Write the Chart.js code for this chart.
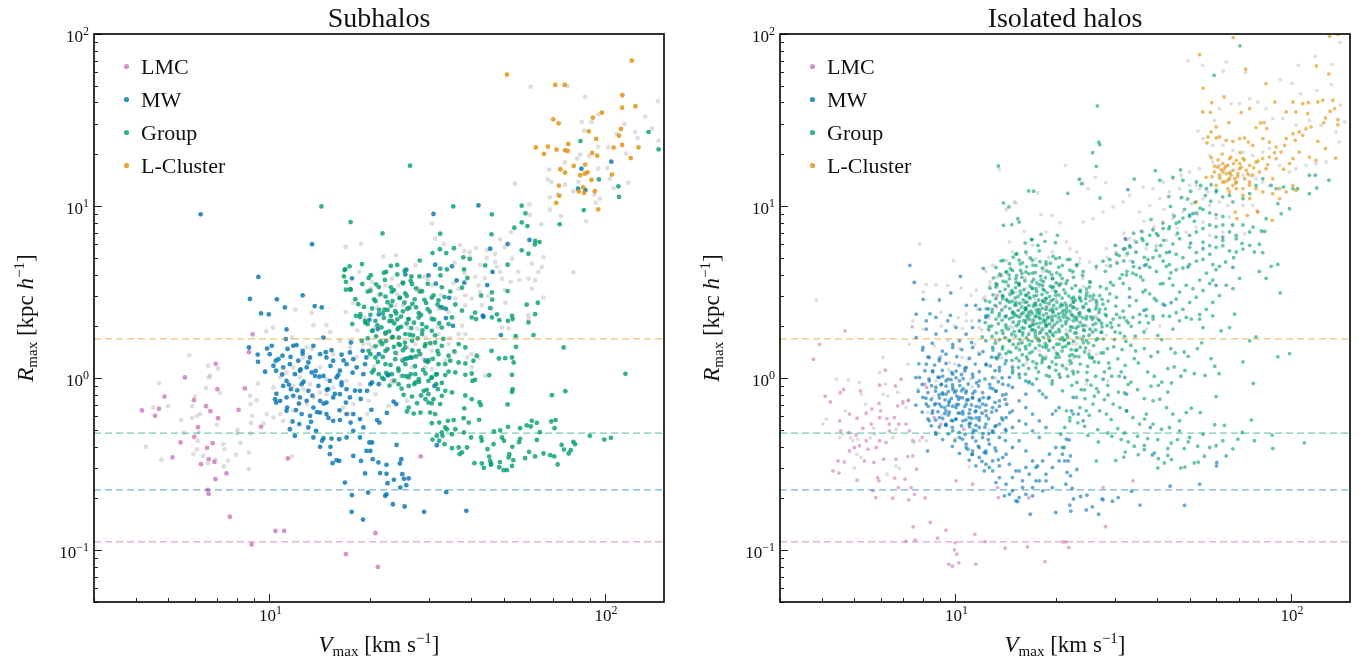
<!DOCTYPE html>
<html>
<head>
<meta charset="utf-8">
<title>Vmax - Rmax</title>
<script src="https://cdn.jsdelivr.net/npm/chart.js@4.4.1/dist/chart.umd.min.js"></script>
<style>
  body { margin: 0; background: #fff; }
  #wrap { position: relative; width: 1359px; height: 662px; }
  canvas { position: absolute; top: 0; }
  #c1 { left: 0; }
  #c2 { left: 680px; }
</style>
</head>
<body>
<div id="wrap">
  <canvas id="c1" width="680" height="662"></canvas>
  <canvas id="c2" width="679" height="662"></canvas>
</div>
<script>
// every point is [log10 Vmax (km/s), log10 Rmax (kpc/h)]
const groupNames = ["LMC", "MW", "Group", "L-Cluster"];
const panelTitles = ["Subhalos", "Isolated halos"];
// Rmax resolution limits (dashed lines), one per group
const refLines = { "L-Cluster": 1.69, Group: 0.479, MW: 0.224, LMC: 0.112 };
const xMajor = [10, 100];
const xMinor = [3, 4, 5, 6, 7, 8, 9, 20, 30, 40, 50, 60, 70, 80, 90];
const yMajor = [0.1, 1, 10, 100];
const yMinor = [0.05, 0.06, 0.07, 0.08, 0.09, 0.2, 0.3, 0.4, 0.5, 0.6, 0.7, 0.8, 0.9, 2, 3, 4, 5, 6, 7, 8, 9, 20, 30, 40, 50, 60, 70, 80, 90];

// ---------- Subhalos ----------
const subLmc = [[.950,.254],[.939,.151],[.840,.083],[.748,.004],[.687,-.107],[.620,-.188],[.659,-.219],[.671,-.178],[.845,-.064],[.927,-.060],[.775,-.128],[.811,-.163],[.824,-.192],[.908,-.184],[.847,-.233],[.787,-.285],[.975,-.283],[.735,-.374],[.776,-.341],[.831,-.378],[.814,-.405],[.711,-.461],[.819,-.471],[.796,-.500],[.836,-.487],[.872,-.554],[.839,-.587],[.816,-.649],[.819,-.673],[.882,-.806],[1.018,-.888],[1.044,-.888],[.947,-.967],[1.055,-.467],[1.228,-1.023],[1.451,-.455],[1.316,-.901],[1.323,-1.097]];

const subMw = [[.795,.952],[1.127,.778],[1.246,.580],[.967,.588],[.942,.460],[1.022,.458],[1.099,.481],[1.046,.411],[.975,.376],[.998,.370],[1.135,.419],[1.156,.411],
[2.019,1.258],[1.930,1.217],[1.920,1.101],[1.942,1.093],[1.623,1.004],[1.489,.954],[1.775,.803],[1.710,.779],[1.658,.752],[1.494,.659],[1.544,.650],[1.408,.630],[1.405,.603],[1.474,.597],[1.665,.617],[1.558,.568],[1.581,.555],[1.649,.541],[1.496,.549],[1.536,.467],[1.510,.413],[1.526,.403],[1.636,.363],
[1.051,.283],[1.049,.227],[.939,.178],[.965,.137],[.966,.095],[.993,.172],[1.007,.188],[1.001,.139],[1.019,.101],[1.027,.110],[1.054,.170],[1.071,.188],[1.081,.192],[1.099,.159],[1.131,.188],[1.161,.236],[1.185,.163],[1.215,.136],[1.240,.149],[1.243,.207],[1.250,.110],[1.278,.159],[1.285,.081],[1.260,.062],[1.230,.081],[1.210,.043],[1.190,.101],[1.170,.120],[1.151,.139],[1.121,.120],[1.111,.062],[1.086,.101],[1.061,.081],[1.039,.130],[1.012,.072],[.987,.037],[1.020,.043],[1.041,.062],[1.051,-.016],[1.076,.023],[1.091,.043],[1.126,.033],[1.136,.013],[1.161,.013],[1.180,-.016],[1.200,.004],[1.215,-.025],[1.230,-.064],[1.210,-.093],[1.190,-.112],[1.170,-.142],[1.151,-.132],[1.131,-.171],[1.111,-.132],[1.091,-.112],[1.071,-.103],[1.051,-.112],[1.032,-.132],[1.017,-.122],[1.020,-.142],[1.041,-.045],[1.064,-.064],[1.096,-.035],[1.116,-.074],[1.146,-.045],[1.175,-.064],[1.240,-.112],[1.270,-.074],[1.280,.023],[1.289,.120],[1.053,-.171],[1.051,-.190],[1.079,-.186],[1.096,-.209],[1.121,-.219],[1.151,-.200],[1.170,-.209],[1.190,-.248],[1.210,-.244],[1.230,-.209],[1.250,-.209],[1.270,-.238],[1.280,-.287],[1.250,-.306],[1.230,-.345],[1.208,-.355],[1.185,-.351],[1.161,-.349],[1.139,-.306],[1.116,-.287],[1.089,-.267],[1.069,-.252],[1.061,-.297],[1.076,-.335],[1.131,-.345],[1.157,-.364],[1.182,-.399],[1.208,-.481],[1.188,-.494],[1.200,-.477],[1.250,-.452],[1.273,-.481],[1.285,-.554],[1.246,-.680],[1.245,-.777],[1.279,-.822],[1.225,-.607],[1.180,-.442],[1.151,-.399],[1.289,-.423],[1.270,-.345],
[1.298,.339],[1.323,.285],[1.326,.139],[1.353,.017],[1.326,-.035],[1.301,-.035],[1.291,-.074],[1.306,-.025],[1.370,-.136],[1.378,-.151],[1.350,-.202],[1.304,-.184],[1.321,-.244],[1.328,-.258],[1.298,-.374],[1.306,-.374],[1.301,-.423],[1.308,-.471],[1.325,-.490],[1.349,-.504],[1.330,-.552],[1.349,-.556],[1.379,-.388],[1.393,-.471],[1.389,-.496],[1.396,-.558],[1.371,-.591],[1.352,-.611],[1.349,-.675],[1.345,-.684],[1.390,-.636],[1.408,-.622],[1.415,-.583],[1.401,-.585],[1.368,-.733],[1.403,-.746],[1.461,-.777],[1.587,-.771],[1.527,-.663],[1.294,-.665],[1.499,-.390],[1.355,.019],[1.547,.304],[1.690,.250],[1.638,.356],[1.526,.349],[1.326,.370],[1.405,.112],[1.420,.120],[1.465,.101],[1.492,-.045],
[1.102,-.021],[1.138,.042],[1.171,-.067],[1.205,.018],[1.128,-.102],[1.162,-.148],[1.195,-.091],[1.228,-.142],[1.083,-.071],[1.116,.091],[1.149,.008],[1.182,.071],[1.215,-.042],[1.248,.032],[1.093,.051],[1.058,-.038],[1.142,-.198],[1.176,-.231],[1.209,-.187],[1.242,-.258],[1.124,-.254],[1.088,-.148],[1.063,.123],[1.099,.142],[1.168,.151],[1.221,.103],[1.255,-.073],[1.272,-.121],[1.038,.021],[1.021,-.091]];

const subGroup = [[1.155,.998],[1.242,.907],[1.276,.663],[1.239,.650],[1.224,.628],[1.222,.591],[1.228,.559],[1.228,.514],[1.242,.514],
[1.258,.362],[1.270,.355],[1.285,.333],[1.293,.314],[1.275,.217],[1.241,.517],[1.256,.459],[1.226,.634],[1.271,.372],[1.247,.314],[1.277,.547],[1.265,.430],
[1.419,1.235],[1.927,1.378],[1.982,1.155],[2.040,1.115],[2.042,1.053],[1.937,.977],[1.865,.894],[1.548,.998],[1.752,1.002],[1.763,.958],[1.663,.952],[1.337,.841],[1.509,.839],[1.662,.836],[1.752,.905],[1.769,.884],[1.730,.874],[1.792,.797],[1.805,.791],[1.791,.776],[1.752,.743],[1.772,.723],[1.486,.727],[1.508,.749],[1.527,.727],[1.550,.755],[1.448,.683],[1.381,.658],[1.348,.617],[1.710,.659],[1.643,.655],[1.578,.702],[1.597,.692],[1.580,.632],[1.509,.636],[1.529,.632],[1.510,.597],[1.590,.582],[1.574,.526],[1.423,.591],[1.447,.591],[1.398,.555],[1.425,.547],[1.710,.506],[1.663,.498],[1.631,.479],[1.664,.456],[1.514,.528],[1.539,.503],[1.522,.471],[1.504,.452],[1.767,.427],[1.800,.438],[2.13,1.43],[2.16,1.33],
[1.296,.582],[1.326,.529],[1.301,.508],[1.346,.474],[1.316,.447],[1.365,.502],[1.388,.466],[1.405,.493],[1.433,.458],[1.455,.505],[1.467,.437],[1.484,.468],[1.306,.405],[1.343,.398],[1.375,.389],[1.417,.409],[1.445,.378],[1.472,.401],[1.554,.428],[1.574,.392],[1.613,.381],[1.658,.407],[1.678,.371],[1.723,.362],[1.792,.372],
[1.603,.353],[1.616,.343],[1.663,.353],[1.685,.337],[1.711,.333],[1.725,.343],[1.772,.324],[1.787,.250],[1.734,.244],[1.877,.178],[1.735,.182],[1.662,.159],[1.618,.130],[1.703,.116],[1.723,.120],[1.728,.091],[1.684,.114],[1.723,.019],[1.723,-.080],[1.725,-.064],[1.710,-.153],[1.842,-.099],[1.882,-.076],[2.061,.025],[1.655,.017],[1.584,.019],[1.603,.027],[1.613,-.010],[1.605,-.016],[1.584,-.101],[1.603,-.122],[1.626,-.140],[1.630,-.157],[1.581,-.176],[1.579,-.233],[1.594,-.258],[1.625,-.242],[1.549,-.244],[1.532,-.248],[1.524,-.287],[1.514,-.316],[1.529,-.297],[1.544,-.326],[1.554,-.297],[1.580,-.316],[1.601,-.345],[1.631,-.345],[1.633,-.364],[1.669,-.310],[1.693,-.345],[1.699,-.364],[1.668,-.384],[1.650,-.413],[1.655,-.456],[1.658,-.481],[1.687,-.488],[1.713,-.461],[1.715,-.442],[1.724,-.399],[1.744,-.372],[1.747,-.353],[1.774,-.428],[1.762,-.465],[1.792,-.455],[1.817,-.438],[1.837,-.448],[1.849,-.455],[1.859,-.502],[1.871,-.388],[1.878,-.415],[1.892,-.438],[1.898,-.419],[1.906,-.370],[1.911,-.384],[1.955,-.335],[1.998,-.357],[2.018,-.347],[1.850,-.291],[1.840,-.252],[1.853,-.244],[1.797,-.260],[1.782,-.248],[1.767,-.275],[1.779,-.281],[1.806,-.314],[1.797,-.359],[1.747,-.291],[1.711,-.283],[1.688,-.304],[1.633,-.496],[1.611,-.494],[1.639,-.521],[1.661,-.498],[1.685,-.518],[1.698,-.535],[1.708,-.535],[1.723,-.510],[1.727,-.477],[1.660,-.504],[1.564,-.403],[1.544,-.407],[1.567,-.442],[1.574,-.432],[1.589,-.403],[1.522,-.384],[1.506,-.364],[1.516,-.335],[1.486,-.357],[1.499,-.335],[1.506,-.258],[1.484,-.262],[1.494,-.209],[1.479,-.200],[1.484,-.147],[1.489,-.122],[1.509,-.151],[1.514,-.103],[1.524,-.074],[1.544,-.083],[1.430,-.206],[1.410,-.194],[1.450,-.200],[1.474,-.142],[1.465,-.122],[1.440,-.146],[1.400,-.097],[1.425,-.107],[1.452,-.101],[1.460,-.074],[1.474,-.093],[1.497,-.035],[1.502,-.064],[1.514,-.028],[1.415,-.045],[1.435,-.025],[1.445,-.006],[1.474,-.016],[1.385,-.035],[1.397,.013],[1.415,.004],[1.435,.023],[1.465,.027],[1.484,.004],[1.499,.023],[1.524,.018],[1.534,.038],[1.554,.033],[1.524,.081],[1.539,.101],[1.564,.091],[1.584,.085],[1.608,.101],[1.584,.178],[1.564,.198],[1.551,.155],[1.534,.130],[1.504,.139],[1.514,.188],[1.494,.207],[1.465,.198],[1.445,.159],[1.425,.120],[1.405,.081],[1.385,.043],[1.365,.023],[1.341,-.006],[1.326,.023],[1.306,.033],[1.316,.120],[1.296,.159],[1.336,.198],[1.365,.236],[1.405,.256],[1.425,.217],[1.455,.256],[1.484,.275],[1.514,.294],[1.534,.314],[1.455,.314],[1.385,.294],[1.346,.265],[1.306,.275],[1.316,.333],[1.365,.333],[1.415,.343],[1.484,.343],[1.544,.353],[1.437,.126],[1.474,.104],[1.504,.081],[1.375,.110],[1.346,.081],[1.405,.178],[1.385,.198],[1.346,.159],[1.415,-.171],
[1.302,.598],[1.344,.571],[1.381,.603],[1.421,.566],[1.318,.545],[1.362,.528],[1.398,.551],[1.437,.522],[1.472,.548],[1.293,.503],[1.331,.487],[1.371,.512],[1.409,.478],[1.448,.503],[1.489,.481],[1.312,.458],[1.352,.441],[1.389,.466],[1.426,.432],[1.462,.455],[1.501,.428],[1.282,.414],[1.327,.397],[1.362,.421],[1.398,.388],[1.437,.412],[1.478,.386],[1.516,.409],[1.301,.368],[1.341,.351],[1.378,.376],[1.414,.343],[1.452,.367],[1.491,.341],[1.286,.322],[1.322,.306],[1.358,.331],[1.393,.298],[1.431,.322],[1.468,.296],[1.506,.319],[1.308,.276],[1.346,.259],[1.382,.284],[1.418,.252],[1.456,.277],[1.494,.249],[1.293,.231],[1.331,.214],[1.368,.239],[1.404,.206],[1.442,.231],[1.479,.204],[1.518,.228],[1.316,.185],[1.352,.168],[1.389,.193],[1.426,.161],[1.463,.185],[1.501,.158],[1.301,.139],[1.338,.123],[1.376,.147],[1.412,.115],[1.449,.139],[1.487,.112],[1.323,.094],[1.361,.077],[1.397,.102],[1.434,.069],[1.472,.093],[1.311,.048],[1.348,.031],[1.384,.056],[1.421,.023],[1.458,.048],[1.496,.021],[1.336,.002],[1.372,-.014],[1.408,.011],[1.446,-.022],[1.483,.002],[1.358,-.043],[1.394,-.061],[1.432,-.035],[1.469,-.068],[1.341,.612],[1.403,.624],[1.362,.652],[1.338,.376],[1.372,.318],[1.357,.272],[1.392,.358],[1.423,.291],[1.386,.236],[1.411,.402],[1.352,.396],[1.367,.448],[1.402,.438],[1.445,.352],[1.428,.248],[1.371,.182],[1.347,.215],[1.398,.162],[1.318,.243],[1.334,.295],[1.381,.341],[1.409,.318],[1.362,.362]];

const subCluster = [[2.080,1.845],[1.708,1.764],[1.852,1.704],[1.880,1.704],[2.052,1.644],[2.051,1.572],[2.091,1.580],[1.991,1.543],[1.964,1.514],[1.846,1.504],[1.862,1.481],[1.952,1.434],[2.048,1.448],[2.042,1.409],[1.974,1.390],[1.794,1.341],[1.830,1.345],[1.856,1.328],[1.881,1.324],[1.889,1.320],[1.891,1.361],[2.026,1.340],[2.051,1.355],[2.100,1.341],[1.818,1.303],[1.962,1.309],[1.977,1.293],[2.077,1.279],[1.907,1.233],[1.867,1.214],[1.881,1.194],[1.941,1.241],[1.926,1.179],[1.940,1.188],[1.948,1.196],[2.021,1.183],[1.960,1.152],[1.863,1.119],[1.922,1.084],[1.938,1.076],[1.935,1.109],[1.970,1.086],[1.864,1.060],[1.855,1.018],[1.980,.981]];

const subGray = [[1.227,.762],[1.273,.781],[1.267,.617],[1.077,.398],[1.126,.380],[1.227,.384],[1.250,.436],
[1.779,1.694],[1.889,1.696],[1.941,1.634],[1.931,1.489],[1.960,1.489],[1.980,1.533],[2.058,1.477],[1.938,1.438],[2.035,1.419],[2.097,1.396],[2.090,1.431],[1.980,1.345],[2.010,1.340],[1.926,1.299],[1.917,1.276],[1.953,1.291],[2.063,1.305],[1.881,1.254],[1.834,1.212],[1.829,1.155],[1.840,1.140],[1.732,1.130],[1.980,1.217],[2.007,1.221],[2.015,1.159],[2.026,1.103],[2.070,1.136],[1.881,1.124],[1.906,1.086],[1.921,1.140],[1.859,1.066],[1.836,1.051],[1.968,1.066],[1.985,1.043],[1.973,1.020],[1.836,.979],[1.869,.942],[1.944,.913],[1.775,1.010],[1.777,.948],[1.485,.898],[1.494,.811],[1.520,.779],[1.720,.849],[1.688,.807],[1.701,.760],[1.810,.894],[1.817,.702],[1.906,.615],[1.339,.706],[1.378,.714],[1.568,.772],[1.597,.733],[1.580,.739],[1.616,.756],[1.648,.743],[1.648,.698],[1.673,.675],[1.723,.694],[1.678,.646],[1.688,.617],[1.693,.578],[1.782,.665],[1.802,.617],[1.812,.646],[1.772,.578],[1.792,.568],[1.745,.570],[1.719,.559],[1.613,.588],[1.623,.539],[1.628,.500],[1.584,.481],[1.603,.462],[1.554,.462],[1.564,.520],[1.703,.438],[1.782,.520],[1.817,.468],[1.435,.655],[1.460,.588],[1.484,.539],[1.445,.520],[1.385,.539],[1.365,.578],[1.346,.539],[1.326,.481],[1.306,.559],[1.405,.442],[1.375,.423],[1.504,.403],[1.534,.384],[1.584,.423],[1.633,.423],[1.663,.403],[1.772,.365],[2.158,1.61],[2.12,1.52],[2.14,1.45],[2.16,1.38],
[.761,.132],[.817,.072],[.847,.056],[.823,.013],[.819,.004],[.671,-.029],[.811,-.058],[.853,-.087],[.778,-.107],[.770,-.163],[.698,-.163],[.654,-.171],[.737,-.244],[.770,-.231],[.784,-.219],[.793,-.209],[.844,-.270],[.745,-.320],[.789,-.314],[.786,-.365],[.773,-.440],[.784,-.414],[.632,-.400],[.678,-.474],[.803,-.452],[.817,-.495],[.839,-.474],[.862,-.383],[.866,-.414],[.877,-.480],[.864,-.513],[.905,-.301],[.903,-.321],[.914,-.377],[.900,-.445],[.939,-.433],[.939,-.528],[.944,-.322],[.945,-.262],[.948,-.219],[.944,-.151],[.962,-.128],[.966,-.031],[.942,-.103],[.982,-.264],[.990,.271],[1.011,.294],[1.131,.308],[1.181,.267],[1.170,.308],[1.067,.236],[1.126,.169],[1.111,.178],
[1.012,-.054],[1.032,.004],[1.051,.033],[1.071,.062],[1.091,.004],[1.071,-.045],[1.101,-.064],[1.121,-.035],[1.151,-.083],[1.170,-.093],[1.190,-.054],[1.230,-.016],[1.170,-.006],[1.131,-.112],[1.111,-.151],[1.071,-.190],[1.032,-.209],[1.012,-.229],[1.041,-.248],[.992,-.209],[1.220,-.171],[1.250,-.151],[1.270,-.035],[1.260,.120],[1.240,.178],[1.280,.198],[1.210,.217],[1.190,.139],[1.101,.120],[1.151,.062],[1.240,-.209],[1.066,-.457],
[1.772,.343],[1.693,.294],[1.713,.289],[1.584,.256],[1.603,.139],[1.623,.120],[1.603,.062],[1.643,.013],[1.590,.120],[1.564,.256],[1.574,.304],[1.296,.198],[1.306,.178],[1.326,.198],[1.346,.159],[1.380,.139],[1.395,.110],[1.435,.198],[1.465,.236],[1.484,.159],[1.484,.198],[1.504,.256],[1.524,.101],[1.465,.062],[1.425,.062],[1.484,.052],[1.365,-.016],[1.316,-.093],[1.296,-.132],[1.291,-.209],[1.355,-.161],[1.410,-.132],[1.370,-.025],[1.554,.149],[1.534,.198],[1.450,.139],[1.415,.294],[1.385,.236],[1.346,.256],[1.316,.294],
[1.321,.412],[1.362,.338],[1.398,.421],[1.441,.287],[1.482,.356],[1.352,.221],[1.412,.176],[1.458,.112],[1.311,.068],[1.391,.012],[1.512,.482],[1.549,.552],[1.581,.612],[1.628,.658],[1.672,.721],[1.712,.783],[1.552,.671],[1.598,.702],[1.642,.582],[1.503,.298],[1.538,.231],[1.441,.512],[1.472,.572],[1.381,.488],[1.283,.351],[1.262,.278],[1.302,.522],[1.652,.478],[1.702,.512],[1.742,.618]];

// ---------- Isolated halos ----------
const isoLmc = [[1.125,.481],[1.123,.415],
[.671,.275],[.595,.196],[.577,.110],[.871,.298],[.612,-.105],[.627,-.138],[.657,-.085],[.667,-.066],[.717,-.074],[.774,-.041],[.791,.046],[.821,-.045],[.838,-.006],[.843,-.138],[.860,-.128],[.828,-.161],[.772,-.147],[.751,-.180],[.777,-.190],[.734,-.204],[.707,-.233],[.655,-.248],[.684,-.209],[.658,-.306],[.682,-.316],[.704,-.330],[.724,-.291],[.749,-.267],[.774,-.229],[.796,-.235],[.803,-.267],[.818,-.229],[.803,-.306],[.831,-.267],[.853,-.267],[.863,-.306],[.873,-.364],[.774,-.364],[.793,-.374],[.734,-.364],[.714,-.393],[.699,-.403],[.739,-.413],[.764,-.403],[.684,-.423],[.650,-.481],[.669,-.487],[.729,-.481],[.757,-.490],[.786,-.471],[.823,-.471],[.858,-.456],[.873,-.452],[.635,-.539],[.653,-.552],[.707,-.593],[.768,-.578],[.772,-.597],[.819,-.581],[.830,-.636],[.850,-.587],[.868,-.636],[.878,-.675],[.861,-.707],[.754,-.655],[.762,-.694],[.813,-.698],[.910,-.696],[.884,-.529],[.901,-.345],[.908,-.035],[.914,-.054],[.937,-.229],[.957,-.267],[1.025,-.297],[1.002,-.597],[1.051,-.616],[.925,-.839],[.874,-.864],[.972,-.884],[.947,-.930],[.880,-.942],[.852,-.948],[.999,-.957],[.997,-.998],[1.004,-1.023],[.980,-1.081],[.991,-1.093],[1.010,-1.074],[1.058,-.907],[1.061,-1.081],[1.089,-.950],[1.148,-.988],[1.215,-.981],[1.267,-1.066],[1.219,-.696],[1.126,-.636],[1.128,-.694],
[1.529,-.597],[1.440,-.636],[1.447,-.863],[1.329,-.952],[1.338,-.985],[1.321,-.952],[1.900,.971],[1.509,.805]];

const isoMw = [[.864,.655],[.878,.557],[1.083,.638],[1.015,.591],[.904,.458],[.952,.454],[.986,.495],[1.033,.423],[1.060,.423],[1.073,.400],[1.098,.403],[.924,.374],[.985,.365],[1.091,.361],[1.151,.361],[1.175,.374],[1.209,.398],[1.228,.805],
[.913,.285],[.883,.236],[.903,.178],[.922,.120],[.913,.081],[.932,.043],[.952,.101],[.972,.139],[.992,.178],[1.012,.217],[1.032,.256],[1.051,.294],[1.071,.333],[1.091,.353],[.942,.256],[.972,.275],[1.002,.294],[.977,.333],[1.091,.217],[1.111,.178],[1.131,.139],[1.151,.101],[1.170,.062],[1.190,.023],[1.210,-.016],[1.161,.004],[1.141,-.035],[1.121,-.074],[1.101,-.112],[1.081,-.151],[1.061,-.190],[1.041,-.229],[1.022,-.209],[1.002,-.171],[.982,-.132],[.962,-.093],[.942,-.054],[.922,-.016],[.903,-.112],[.893,.004],[.913,-.151],[.932,-.190],[.952,-.229],[.972,-.267],[.992,-.306],[1.012,-.345],[1.032,-.384],[1.051,-.423],[1.071,-.461],[1.091,-.500],[1.111,-.539],[1.131,-.578],[1.151,-.616],[1.170,-.655],[1.190,-.694],[1.210,-.675],[1.230,-.636],[1.250,-.597],[1.270,-.558],[1.289,-.519],[1.309,-.481],[1.319,-.442],[1.299,-.403],[1.280,-.442],[1.260,-.481],[1.240,-.519],[1.220,-.558],[1.200,-.597],[1.180,-.539],[1.161,-.500],[1.141,-.461],[1.121,-.423],[1.101,-.384],[1.081,-.345],[1.061,-.306],[1.041,-.267],[1.071,-.229],[1.091,-.190],[1.111,-.171],[1.131,-.132],[1.151,-.093],[1.170,-.054],[1.190,-.132],[1.210,-.171],[1.230,-.209],[1.250,-.248],[1.270,-.287],[1.289,-.209],[1.309,-.171],[1.270,-.112],[1.250,-.074],[1.230,-.035],[1.210,-.093],[1.170,-.190],[1.151,-.229],[1.131,-.267],[1.111,-.306],[1.091,-.267],[1.032,-.074],[1.012,-.016],[.992,.023],[.972,-.016],[.952,.004],[1.032,.062],[1.051,.023],[1.071,-.016],[1.091,.081],[1.071,.139],[1.051,.178],[1.131,.043],[1.111,.004],[.992,-.054],[.972,-.093],[1.012,-.112],[1.051,-.112],[1.071,-.132],[1.032,-.151],[1.002,-.074],[1.022,-.248],[.992,-.248],[.972,-.190],[.952,-.151],[.922,-.248],[1.051,-.345],[1.071,-.287],[1.091,-.423],[1.131,-.345],[1.151,-.306],[1.170,-.287],[1.190,-.248],[1.210,-.267],[1.230,-.306],[1.250,-.345],[1.190,-.364],[1.170,-.403],[1.151,-.442],[1.210,-.423],[1.230,-.481],[1.190,-.539],[1.170,-.578],[1.210,-.519],[1.245,-.510],[1.240,-.597],[1.161,-.675],[1.180,-.713],[1.185,-.717],[1.200,-.636],[1.230,-.684],[1.260,-.655],[1.270,-.597],[1.289,-.636],[1.299,-.781],[1.223,-.791],[1.146,-.684],[1.121,-.607],[1.101,-.519],[1.086,-.432],[1.071,-.403],[1.051,-.442],[1.037,-.413],[1.061,-.510],[1.086,-.539],[1.111,-.481],[1.131,-.510],[.917,-.423],[.942,-.326],[.913,.333],[.942,.353],[.883,.372],
[1.004,-.104],[1.023,-.061],[.981,-.142],[1.043,-.183],[.958,-.039],[1.013,-.203],[1.052,-.088],[.987,-.009],[1.034,-.127],[.968,-.171],[1.063,-.028],[1.001,-.238],[1.083,-.113],[.951,-.096],[1.018,.021],[1.044,-.262],[.979,-.214],[1.072,-.168],[1.009,-.153],[.993,-.068],[1.104,-.057],[1.092,-.218],[.941,-.148],[1.029,.058],[1.053,-.302],[.971,-.272],[1.118,-.141],[1.002,.041],[1.062,-.231],[.962,.012],
[1.331,-.355],[1.339,-.359],[1.324,-.403],[1.326,-.481],[1.336,-.481],[1.343,-.452],[1.333,-.548],[1.343,-.568],[1.362,-.531],[1.329,-.616],[1.348,-.640],[1.352,-.702],[1.373,-.688],[1.392,-.680],[1.341,-.738],[1.344,-.773],[1.390,-.766],[1.408,-.748],[1.427,-.791],[1.437,-.702],[1.440,-.707],[1.468,-.715],[1.485,-.694],[1.525,-.657],[1.550,-.738],[1.640,-.628],[1.683,-.740],[1.728,-.616],[1.779,-.490],[1.778,-.510],[1.587,-.446],[1.505,.004],[1.510,-.190],[1.581,-.287],[1.510,-.093],[1.440,-.006],[1.351,-.112],[1.366,-.209],[1.381,-.248],[1.346,-.190],
[1.514,1.095],[1.555,.853],[1.506,.810],[1.505,.752],[1.529,.675],[1.564,.655],[1.638,.733],[1.701,.785],[1.693,.646],[1.738,.752],[1.777,.539],[1.827,.644],[1.797,.820],[1.708,.956],[1.519,.471],[1.624,.423],[1.643,.438],[1.562,.394],
[.931,.203],[.992,.196],[1.048,.207],[.902,.163],[.961,.157],[1.019,.166],[1.082,.154],[.918,.123],[.953,.116],[1.004,.125],[1.041,.114],[1.108,.122],[.891,.083],[.938,.076],[.972,.085],[1.011,.074],[1.059,.082],[1.092,.077],[.909,.043],[.932,.036],[.961,.045],[.989,.034],[1.028,.042],[1.071,.037],[1.118,.044],[.882,.003],[.921,-.004],[.948,.005],[.978,-.006],[1.002,.002],[1.023,-.003],[1.052,.006],[1.088,-.005],[1.139,.001],[.901,-.037],[.929,-.044],[.958,-.035],[.972,-.046],[.991,-.038],[1.013,-.043],[1.038,-.034],[1.069,-.045],[1.102,-.036],[.889,-.077],[.918,-.084],[.941,-.075],[.961,-.086],[.979,-.078],[.998,-.083],[1.018,-.074],[1.031,-.085],[1.058,-.076],[1.081,-.084],[1.121,-.077],[.912,-.117],[.928,-.124],[.952,-.115],[.969,-.126],[.988,-.118],[1.009,-.123],[1.021,-.114],[1.038,-.125],[1.051,-.116],[1.072,-.124],[1.098,-.117],[1.148,-.123],[.882,-.157],[.919,-.164],[.938,-.155],[.958,-.166],[.979,-.158],[.992,-.163],[1.003,-.154],[1.028,-.165],[1.048,-.156],[1.062,-.164],[1.091,-.157],[1.131,-.163],[.901,-.197],[.931,-.204],[.948,-.195],[.968,-.206],[.982,-.198],[1.008,-.203],[1.022,-.194],[1.041,-.205],[1.059,-.196],[1.079,-.204],[1.108,-.197],[.918,-.237],[.941,-.244],[.962,-.235],[.988,-.246],[1.002,-.238],[1.031,-.243],[1.049,-.234],[1.071,-.245],[1.099,-.236],[1.141,-.243],[.928,-.277],[.952,-.284],[.972,-.275],[.991,-.286],[1.018,-.278],[1.042,-.283],[1.061,-.274],[1.088,-.285],[1.121,-.276],[.941,-.317],[.979,-.324],[1.011,-.315],[1.029,-.326],[1.052,-.318],[1.082,-.323],[1.112,-.314],[.962,-.357],[.998,-.364],[1.021,-.355],[1.061,-.366],[1.098,-.358],[1.149,-.363],[.991,-.397],[1.032,-.404],[1.068,-.395],[1.118,-.406],[1.012,-.437],[1.049,-.444],[1.091,-.435],[1.041,-.477],[1.079,-.484],[1.128,-.475],
[1.112,-.062],[1.128,-.021],[1.141,-.098],[1.153,-.152],[1.122,-.188],[1.138,-.231],[1.158,-.041],[1.104,.071],[1.131,.062],[1.118,-.281],[1.149,-.298],[1.162,-.201],[1.099,-.322],[1.124,.112]];

const isoGroup = [[1.128,1.233],[1.218,1.088],[1.233,1.086],[1.143,1.018],[1.159,.995],[1.186,.927],[1.190,.907],[1.143,.888],[1.168,.892],[1.227,.807],[1.255,.836],[1.246,.772],[1.267,.795],[1.298,.787],[1.304,.830],[1.208,.785],[1.183,.723],[1.136,.681],[1.161,.665],[1.190,.685],[1.210,.733],[1.230,.685],[1.170,.626],[1.151,.617],[1.136,.597],[1.121,.549],[1.151,.559],[1.180,.578],[1.210,.617],[1.240,.655],[1.270,.675],[1.299,.694],[1.319,.655],[1.190,.539],[1.170,.500],[1.210,.481],[1.230,.520],[1.260,.539],[1.289,.578],[1.309,.539],[1.270,.462],[1.240,.423],[1.210,.403],[1.180,.423],[1.250,.374],[1.289,.403],[1.319,.423],[1.161,.442],[1.141,.462],[1.220,.365],[1.299,.481],[1.280,.617],
[1.250,.353],[1.270,.314],[1.289,.256],[1.309,.198],[1.299,.120],[1.280,.062],[1.309,.023],[1.289,-.016],[1.319,-.074],[1.260,-.093],[1.299,-.190],[1.314,-.326],[1.319,-.403],[1.230,.314],[1.210,.333],[1.170,.353],[1.190,.275],[1.250,.217],[1.270,.178],[1.289,.333],[1.309,.353],
[1.21,.41],[1.24,.36],[1.27,.30],[1.19,.33],[1.23,.28],[1.29,.39],[1.26,.45],[1.31,.27],[1.17,.38],[1.22,.47],[1.28,.22],[1.25,.19],[1.33,.33],[1.20,.25],[1.15,.31],[1.30,.50],[1.18,.44],[1.36,.29],[1.24,.52],[1.27,.40],[1.13,.36],[1.16,.22],[1.21,.17],[1.26,.12],[1.32,.18],[1.35,.41],[1.38,.35],[1.29,.58],[1.23,.61],[1.19,.55],[1.14,.48],[1.11,.40],[1.10,.30],[1.14,.17],[1.19,.10],[1.24,.06],[1.30,.08],[1.34,.13],[1.39,.22],[1.41,.31],[1.37,.47],[1.33,.55],[1.27,.66],[1.20,.67],[1.16,.60],[1.12,.53],[1.09,.45],[1.08,.24],[1.12,.12],[1.17,.03],[1.22,-.02],[1.28,.01],[1.35,.04],[1.40,.12],[1.43,.40],[1.40,.53],[1.35,.62],[1.31,.70],[1.25,.74],[1.18,.72],[1.215,.35],[1.235,.43],[1.255,.27],[1.275,.35],[1.245,.23],[1.205,.29],[1.285,.45],[1.265,.51],[1.225,.39],[1.295,.31],[1.175,.27],[1.195,.49],[1.315,.43],[1.335,.24],[1.255,.57],[1.155,.45],[1.305,.14],[1.215,.11],[1.345,.37],[1.165,.15],[1.232,.31],[1.262,.34],[1.248,.40],[1.218,.22],[1.282,.27],[1.242,.48],[1.272,.19],[1.202,.38],[1.292,.53],[1.188,.20],[1.322,.22],[1.352,.47],[1.228,.56],[1.142,.26],[1.168,.51],[1.312,.60],[1.382,.28],[1.258,.09],[1.198,.61],[1.372,.18],[1.238,.26],[1.268,.44],[1.208,.44],[1.288,.36],[1.252,.32],[1.222,.30],[1.278,.24],[1.244,.38],[1.318,.38],[1.186,.36],
[1.172,.703],[1.224,.697],[1.291,.708],[1.143,.684],[1.252,.677],[1.334,.689],[1.193,.663],[1.231,.657],[1.283,.668],[1.362,.654],[1.121,.643],[1.164,.636],[1.212,.647],[1.259,.639],[1.308,.645],[1.153,.618],[1.194,.626],[1.238,.614],[1.271,.623],[1.302,.612],[1.341,.627],[1.132,.604],[1.182,.596],[1.219,.607],[1.254,.593],[1.287,.602],[1.379,.598],[1.113,.583],[1.161,.577],[1.198,.586],[1.233,.574],[1.268,.584],[1.318,.579],[1.352,.586],[1.142,.563],[1.181,.556],[1.207,.566],[1.243,.553],[1.262,.561],[1.301,.554],[1.333,.567],[1.402,.558],[1.124,.544],[1.158,.537],[1.189,.546],[1.222,.535],[1.251,.543],[1.283,.534],[1.312,.547],[1.358,.538],[1.103,.523],[1.148,.516],[1.179,.526],[1.204,.514],[1.228,.524],[1.261,.517],[1.289,.527],[1.323,.513],[1.347,.522],[1.391,.518],[1.133,.503],[1.171,.496],[1.193,.506],[1.218,.495],[1.242,.504],[1.273,.497],[1.298,.506],[1.328,.494],[1.372,.502],[1.112,.484],[1.141,.476],[1.163,.486],[1.187,.475],[1.211,.483],[1.234,.477],[1.258,.486],[1.281,.474],[1.309,.483],[1.338,.477],[1.412,.482],[1.121,.463],[1.152,.456],[1.178,.466],[1.202,.455],[1.223,.464],[1.248,.454],[1.269,.463],[1.292,.457],[1.318,.465],[1.357,.454],[1.388,.462],[1.102,.443],[1.133,.437],[1.169,.446],[1.191,.435],[1.213,.443],[1.238,.436],[1.261,.445],[1.279,.434],[1.302,.442],[1.327,.436],[1.352,.444],[1.421,.437],[1.118,.423],[1.149,.416],[1.177,.425],[1.198,.414],[1.219,.423],[1.232,.417],[1.253,.426],[1.271,.414],[1.293,.422],[1.312,.415],[1.343,.424],[1.381,.416],[1.092,.403],[1.138,.396],[1.162,.405],[1.187,.394],[1.208,.402],[1.241,.397],[1.259,.406],[1.282,.395],[1.301,.403],[1.322,.394],[1.362,.402],[1.398,.396],[1.109,.383],[1.131,.376],[1.171,.385],[1.197,.374],[1.218,.382],[1.229,.377],[1.251,.386],[1.272,.375],[1.291,.383],[1.308,.374],[1.331,.385],[1.368,.376],[1.428,.382],[1.098,.363],[1.148,.356],[1.179,.365],[1.192,.355],[1.212,.363],[1.238,.357],[1.262,.366],[1.278,.354],[1.298,.362],[1.321,.356],[1.349,.364],[1.391,.357],[1.121,.343],[1.139,.336],[1.161,.345],[1.203,.334],[1.221,.342],[1.233,.337],[1.252,.346],[1.269,.335],[1.288,.343],[1.313,.334],[1.338,.344],[1.361,.337],[1.408,.342],[1.089,.323],[1.128,.316],[1.172,.325],[1.188,.314],[1.209,.322],[1.241,.317],[1.263,.326],[1.281,.315],[1.303,.323],[1.329,.316],[1.372,.324],[1.108,.303],[1.151,.296],[1.182,.305],[1.199,.294],[1.222,.302],[1.248,.297],[1.271,.306],[1.289,.295],[1.318,.303],[1.349,.296],[1.378,.305],[1.437,.298],[1.099,.283],[1.139,.276],[1.158,.285],[1.192,.274],[1.228,.282],[1.238,.277],[1.259,.286],[1.282,.275],[1.308,.283],[1.342,.276],[1.401,.284],[1.122,.263],[1.168,.256],[1.201,.265],[1.218,.254],[1.251,.262],[1.272,.257],[1.299,.266],[1.331,.255],[1.361,.263],[1.109,.243],[1.148,.236],[1.179,.245],[1.212,.234],[1.239,.242],[1.262,.237],[1.292,.246],[1.319,.235],[1.382,.243],[1.131,.223],[1.161,.216],[1.192,.225],[1.228,.214],[1.249,.222],[1.281,.217],[1.312,.226],[1.352,.215],[1.419,.222],[1.119,.203],[1.172,.196],[1.198,.205],[1.221,.194],[1.268,.202],[1.302,.197],[1.338,.204],[1.141,.183],[1.181,.176],[1.209,.185],[1.238,.174],[1.261,.182],[1.292,.177],[1.329,.186],[1.388,.175],[1.112,.163],[1.159,.156],[1.191,.165],[1.229,.154],[1.278,.162],[1.318,.157],[1.362,.164],[1.151,.143],[1.199,.136],[1.221,.145],[1.252,.134],[1.302,.142],[1.348,.137],[1.128,.123],[1.182,.116],[1.212,.125],[1.268,.114],[1.309,.122],[1.408,.117],[1.169,.103],[1.231,.096],[1.259,.105],[1.288,.094],[1.341,.102],[1.148,.083],[1.202,.076],[1.242,.085],[1.319,.074],[1.372,.082],[1.188,.063],[1.218,.056],[1.279,.065],[1.331,.054],[1.171,.043],[1.248,.036],[1.299,.045],[1.392,.034],[1.209,.023],[1.271,.016],[1.352,.025],[1.191,.003],[1.242,-.004],[1.312,.005],[1.219,-.027],[1.288,-.034],[1.362,-.025],
[1.352,.412],[1.371,.381],[1.389,.432],[1.403,.356],[1.418,.318],[1.434,.265],[1.447,.402],[1.366,.301],[1.381,.205],[1.398,.248],[1.412,.189],[1.426,.342],[1.441,.147],[1.358,.162],[1.375,.448],[1.392,.496],[1.407,.121],[1.421,.419],[1.437,.458],[1.452,.305],[1.362,.236],[1.384,.277],[1.397,.395],[1.418,.281],[1.343,.298],[1.355,.352],[1.331,.402],[1.347,.462],[1.337,.201],[1.368,.125],
[1.462,.652],[1.488,.712],[1.502,.681],[1.521,.761],[1.538,.732],[1.556,.812],[1.571,.778],[1.589,.862],[1.604,.829],[1.618,.901],[1.636,.868],[1.652,.942],[1.667,.908],[1.683,.981],[1.698,.949],[1.714,1.021],[1.729,.988],[1.745,1.061],[1.761,1.028],[1.778,1.092],[1.476,.771],[1.531,.842],[1.583,.922],[1.641,.998],[1.692,1.041],[1.511,.621],[1.563,.702],[1.612,.771],[1.662,.842],[1.712,.912],
[1.372,.512],[1.401,.476],[1.432,.531],[1.455,.448],[1.418,.402],[1.447,.371],[1.478,.418],[1.503,.352],[1.466,.296],[1.491,.263],[1.524,.301],[1.441,.227],[1.472,.182],[1.508,.214],[1.537,.158],[1.398,.138],[1.427,.091],[1.459,.058],[1.488,.011],[1.515,-.037],[1.392,-.012],[1.421,-.061],[1.455,-.098],[1.378,.224],[1.409,.268],[1.436,.318],[1.462,.556],[1.497,.602],[1.531,.648],[1.552,.588],[1.574,.689],[1.513,.725],[1.482,.668],[1.447,.621],[1.598,.742],[1.621,.801],[1.566,.512],[1.593,.463],[1.611,.548],[1.642,.612],
[1.848,1.931],[1.771,1.760],[1.423,1.582],[1.427,1.372],[1.409,1.310],[1.420,1.231],[1.430,1.357],[1.533,1.157],[1.369,1.155],[1.376,1.130],[1.335,1.074],[1.431,1.047],[1.609,1.150],[1.596,1.206],[1.648,1.167],[1.671,1.210],[1.678,1.150],[1.701,1.086],[1.673,1.049],[1.636,1.055],[1.718,1.140],[1.731,1.120],[1.748,1.101],[1.762,1.124],[1.777,1.082],[1.797,1.053],[1.817,1.062],[1.827,1.024],[1.857,1.043],[1.877,1.072],[1.896,1.120],
[1.916,1.159],[1.941,1.120],[1.956,1.101],[1.978,1.111],[2.006,1.101],[2.020,1.101],[2.055,1.179],[2.073,1.179],[2.077,1.105],[2.113,1.150],[2.055,1.072],[1.961,1.014],[1.996,.985],[1.971,.956],[1.926,.927],[1.912,.855],[1.922,.853],[1.887,.878],[1.857,.89],[1.837,.83],[1.817,.85],[1.797,.80],[1.777,.82],[1.758,.77],[1.738,.79],[1.718,.73],[1.698,.76],[1.678,.70],[1.658,.72],[1.638,.66],[1.619,.68],[1.599,.62],[1.579,.645],[1.559,.57],[1.539,.60],[1.519,.52],[1.500,.55],[1.480,.47],[1.460,.49],[1.440,.43],[1.420,.45],[1.400,.39],[1.381,.41],[1.361,.35],[1.341,.39],[1.326,.37],
[1.961,.661],[1.968,.495],[1.906,.778],[1.891,.733],[1.916,.729],[1.877,.772],[1.854,.783],[1.837,.733],[1.829,.700],[1.805,.675],[1.787,.65],[1.777,.63],[1.767,.57],[1.758,.55],[1.738,.51],[1.718,.47],[1.698,.44],[1.678,.40],[1.658,.38],[1.638,.36],[1.619,.43],[1.599,.45],[1.579,.49],[1.559,.50],[1.539,.45],[1.519,.42],[1.500,.39],[1.480,.37],[1.619,.55],[1.638,.58],[1.658,.63],[1.678,.64],[1.698,.66],[1.718,.68],[1.738,.69],[1.758,.72],[1.777,.76],[1.797,.77],[1.817,.74],[1.718,.85],[1.698,.83],[1.668,.81],[1.648,.78],[1.629,.73],[1.609,.71],[1.589,.70],[1.569,.66],[1.549,.64],[1.529,.61],[1.510,.60],[1.490,.58],[1.470,.54],[1.450,.52],[1.430,.48],[1.410,.46],[1.390,.48],[1.371,.46],[1.351,.44],[1.331,.42],[1.400,.56],[1.381,.62],[1.361,.66],[1.341,.69],[1.420,.65],[1.440,.68],[1.460,.69],[1.480,.72],[1.500,.75],[1.519,.77],[1.539,.79],[1.559,.80],[1.579,.83],[1.599,.84],[1.619,.87],[1.638,.88],[1.658,.90],[1.678,.93],[1.698,.94],[1.718,.96],[1.738,.98],[1.758,.96],[1.777,.95],[1.797,.94],[1.738,.87],[1.758,.89],[1.777,.88],[1.797,.89],[1.826,.89],[1.837,.81],[1.857,.75],[1.877,.85],[1.629,.65],[1.648,.54],[1.668,.50],[1.688,.54],[1.708,.52],[1.728,.57],[1.748,.61],[1.767,.66],[1.807,.54],[1.827,.52],[1.847,.58],[1.787,.48],[1.767,.44],[1.748,.40],[1.728,.37],[1.569,.40],[1.549,.37],[1.589,.36],[1.658,.46],[1.906,.62],[1.926,.58],[1.941,.65],
[1.331,.353],[1.351,.333],[1.371,.362],[1.390,.343],[1.410,.353],[1.430,.333],[1.450,.362],[1.470,.343],[1.490,.353],[1.510,.333],[1.529,.353],[1.549,.324],[1.569,.362],[1.589,.343],[1.619,.362],[1.648,.285],[1.668,.333],[1.688,.353],[1.703,.343],[1.728,.343],[1.738,.294],[1.767,.362],[1.792,.275],[1.817,.294],[1.832,.372],[1.877,.217],[1.896,.240],[1.961,.124],[1.996,.143],[1.857,.095],[1.888,-.031],[1.777,-.107],[1.730,-.200],[1.688,-.200],[1.703,-.175],[1.668,-.248],[1.648,-.209],[1.629,-.171],[1.609,-.122],[1.589,-.132],[1.569,-.209],[1.549,-.267],[1.529,-.229],[1.510,-.190],[1.490,-.171],[1.470,-.151],[1.450,-.209],[1.430,-.190],[1.410,-.151],[1.390,-.190],[1.371,-.171],[1.351,-.209],[1.341,-.229],[1.331,-.190],[1.361,-.112],[1.385,-.068],[1.404,-.041],[1.418,.011],[1.444,.036],[1.457,.088],[1.484,.112],[1.497,.166],[1.523,.191],[1.536,.244],[1.562,.268],[1.575,.321],[1.603,.249],[1.615,.224],[1.642,.171],[1.655,.146],[1.682,.152],[1.694,.127],[1.721,.171],[1.734,.205],[1.762,.113],[1.773,.069],[1.786,.026],[1.744,.016],[1.712,.026],[1.684,.045],[1.672,.011],[1.644,-.028],[1.633,-.081],[1.605,-.042],[1.593,.011],[1.573,.036],[1.545,.088],[1.533,.113],[1.506,.074],[1.494,.036],[1.466,.011],[1.454,-.042],[1.426,-.081],[1.414,-.105],[1.386,-.119],[1.375,-.067],[1.347,-.042],[1.335,.011],[1.345,.088],[1.357,.127],[1.385,.152],[1.396,.205],[1.424,.229],[1.436,.268],[1.463,.321],[1.476,.268],[1.504,.243],[1.385,.307],[1.355,.263],[1.327,.224],[1.345,.166],[1.365,.036],[1.394,.069],[1.414,.094],[1.434,.146],[1.453,.171],[1.474,.224],[1.487,.307],[1.516,.321],[1.633,.055],[1.652,.065],[1.583,.127],[1.563,.171],[1.603,.152],[1.615,-.023],[1.523,-.023],[1.543,-.067],[1.563,-.119],[1.583,-.047],[1.504,-.086],[1.486,-.081],[1.444,-.125],[1.464,-.241],[1.484,-.294],[1.504,-.319],[1.515,-.371],[1.543,-.338],[1.563,-.391],[1.573,-.352],[1.603,-.357],[1.633,-.410],[1.643,-.377],[1.662,-.357],[1.682,-.410],[1.694,-.371],[1.722,-.396],[1.742,-.454],[1.724,-.488],[1.712,-.493],[1.684,-.517],[1.672,-.522],[1.644,-.474],[1.633,-.449],[1.605,-.468],[1.593,-.435],[1.563,-.416],[1.545,-.445],[1.533,-.396],[1.506,-.430],[1.502,-.459],[1.494,-.357],[1.466,-.338],[1.454,-.319],[1.426,-.371],[1.424,-.299],[1.395,-.333],[1.385,-.280],[1.365,-.260],[1.399,-.216],[1.478,-.478],[1.603,-.522],[1.623,-.493],[1.758,-.403],[1.777,-.393],[1.797,-.364],[1.807,-.452],[1.827,-.411],[1.842,-.355],[1.855,-.316],[1.882,-.244],[1.891,-.364],[1.944,-.331],[1.946,-.409],[2.040,-.376],[1.773,-.271],[1.802,-.275],[1.738,-.326],[1.698,-.345],[1.668,-.306],[1.638,-.287],[1.614,-.297],[1.589,-.267],[1.564,-.238],[1.341,-.248],[1.326,-.287],[1.420,-.481]];

const isoCluster = [[1.828,1.979],[2.115,1.987],[2.141,1.998],[1.728,1.880],[1.865,1.795],[2.076,1.814],[2.113,1.768],[1.926,1.712],[1.738,1.686],[1.801,1.634],[1.764,1.601],[1.737,1.547],[1.760,1.545],[1.852,1.543],[1.877,1.566],[1.952,1.605],[2.006,1.605],[2.035,1.595],[2.052,1.601],[1.986,1.547],[2.015,1.547],[2.050,1.537],[2.080,1.605],[2.095,1.615],[2.125,1.615],[2.130,1.566],[2.117,1.551],[2.103,1.512],[2.098,1.485],[2.140,1.502],[2.140,1.473],[1.815,1.485],[1.909,1.483],[1.920,1.485],[1.896,1.456],[1.928,1.450],[1.777,1.460],[1.762,1.431],[1.753,1.402],[1.750,1.367],[1.777,1.396],[1.787,1.402],[1.807,1.382],[1.827,1.376],[1.847,1.392],[1.862,1.396],[1.873,1.372],[1.886,1.353],[1.916,1.392],[1.936,1.372],[1.956,1.343],[1.971,1.314],[1.986,1.392],[2.006,1.421],[2.025,1.431],[2.035,1.411],[2.045,1.450],[2.060,1.460],[2.080,1.376],[2.103,1.334],[2.133,1.279],[2.075,1.266],[2.055,1.285],[2.025,1.314],[2.006,1.276],[1.996,1.247],[1.978,1.214],[1.956,1.276],[1.936,1.285],[1.916,1.276],[1.896,1.256],[1.877,1.237],[1.857,1.276],[1.837,1.266],[1.817,1.276],[1.797,1.247],[1.782,1.227],[1.772,1.198],[1.787,1.179],[1.807,1.188],[1.827,1.208],[1.847,1.217],[1.867,1.208],[1.886,1.179],[1.906,1.198],[1.926,1.217],[1.946,1.159],[1.966,1.101],[1.986,1.082],[2.006,1.120],[2.015,1.091],[1.966,1.043],[1.946,1.072],[1.916,1.082],[1.896,1.101],[1.877,1.140],[1.857,1.101],[1.837,1.140],[1.817,1.159],[1.797,1.140],[1.777,1.120],[1.817,1.082],[1.837,1.101],[1.857,1.062],[1.877,1.043],[1.901,.965],[1.834,.965],[1.839,.927],[1.870,.946],[1.944,.917],[1.718,1.024],[1.765,1.171],[1.747,1.167],[1.802,1.217],[1.812,1.237],[1.822,1.179],[1.832,1.159],[1.842,1.188],[1.812,1.150],[1.827,1.120],[1.797,1.198],[1.847,1.247],[1.862,1.159],
[1.792,1.212],[1.806,1.231],[1.818,1.192],[1.829,1.247],[1.841,1.171],[1.788,1.162],[1.852,1.226],[1.803,1.141],[1.836,1.134],[1.871,1.187],[1.783,1.268],[1.861,1.268],[1.821,1.285],[1.795,1.302],[1.848,1.311],[1.889,1.222],[1.902,1.262],[1.772,1.232],[1.762,1.281],[1.812,1.101],[1.876,1.121],[1.931,1.241],[1.951,1.311],[1.981,1.352],[2.013,1.382]];

const isoGray = [[1.131,1.212],[1.245,1.076],[1.176,1.024],[1.151,.979],[1.180,1.018],[1.255,.950],[1.287,.946],[1.205,.853],[1.270,.849],[1.312,.903],[.893,.781],[.994,.684],[.942,.543],[.913,.545],[.905,.500],[.874,.555],[.977,.539],[1.017,.524],[1.047,.481],[1.083,.462],[1.103,.559],[1.126,.529],[.585,.452],[.957,.384],[1.032,.374],[1.111,.655],[1.170,.733],[1.161,.791],[1.230,.772],[1.240,.694],[1.289,.733],
[.605,-.267],[.615,-.238],[.645,-.006],[.681,-.010],[.672,-.190],[.714,-.025],[.719,-.093],[.732,-.151],[.655,-.345],[.664,-.326],[.687,-.345],[.694,-.364],[.709,-.355],[.706,-.442],[.719,-.461],[.699,-.523],[.746,-.347],[.759,-.326],[.813,-.345],[.823,-.297],[.853,-.171],[.843,-.151],[.858,-.132],[.774,.033],[.791,-.035],[.784,-.093],[.756,-.291],[.823,-.510],[.796,-.558],[.833,-.525],[.878,-.374],[.893,-.364],[.913,-.364],[.917,-.200],[.913,-.151],[.932,-.112],[.942,-.016],[.888,-.064],[.863,.198],[.858,.081],[.873,.333],[.903,.285],[.937,.188],[.957,.130],[.982,.091],[1.027,.052],[1.046,-.006],[.997,.304],[1.032,.333],[1.071,.294],[1.101,.275],[1.121,.217],[1.151,.236],[1.170,.294],[1.041,-.516],[.784,.120],[.798,-.103],[.828,-.083],
[1.05,-.05],[.98,.05],[1.08,-.20],[.96,-.22],[1.12,.00],[1.02,.12],[.94,-.05],[1.10,-.30],[1.00,-.35],[1.15,-.15],
[1.23,.33],[1.28,.42],[1.19,.40],[1.33,.28],[1.25,.16],[1.15,.28],[1.30,.55],[1.21,.52],[1.36,.36],[1.10,.35],[1.26,.62],[1.40,.45],[1.17,.07],[1.34,.08],[1.12,.46],[1.45,.25],[1.22,.70],[1.07,.15],[1.31,.01],[1.38,.58],[1.24,.44],[1.20,.21],[1.29,.30],[1.16,.50],[1.35,.20],[1.27,.26],[1.42,.35],[1.13,.59],[1.19,.02],[1.37,.67],
[1.152,.612],[1.208,.583],[1.262,.641],[1.318,.552],[1.181,.498],[1.236,.462],[1.289,.512],[1.341,.418],[1.142,.403],[1.198,.372],[1.252,.398],[1.304,.341],[1.163,.302],[1.221,.268],[1.278,.311],[1.331,.252],[1.118,.221],[1.183,.187],[1.243,.214],[1.298,.158],[1.361,.199],[1.138,.118],[1.212,.091],[1.271,.128],[1.323,.066],[1.102,.538],[1.123,.588],[1.088,.472],[1.066,.401],[1.048,.332],[1.078,.281],[1.031,.254],[1.058,.198],[1.012,.171],[1.043,.118],[.998,.083],[1.021,.288],[.978,.221],[.958,.302],[1.008,.352],[1.062,.511],[1.091,.622],[1.152,.683],[1.212,.721],[1.278,.702],[1.349,.612],[1.382,.532],[1.402,.448],[1.419,.361],[1.392,.302],[1.371,.238],[1.399,.158],[1.352,.118],[1.229,.332],[1.262,.281],[1.198,.438],[1.248,.532],[1.302,.462],[1.168,.248],[1.271,.402],
[1.478,.732],[1.533,.801],[1.592,.881],[1.648,.951],[1.703,1.012],[1.752,1.082],[1.502,.842],[1.562,.912],[1.621,.981],[1.677,1.052],[1.452,.702],[1.521,.681],[1.598,.761],[1.661,.872],[1.722,.951],
[1.609,.304],[1.569,.285],[1.455,-.016],[1.390,-.035],[1.420,.139],[1.400,.256],
[1.693,1.845],[1.737,1.818],[1.807,1.838],[1.799,1.785],[1.865,1.776],[1.968,1.735],[2.003,1.712],[2.073,1.871],[2.022,1.818],[2.123,1.824],[2.147,1.950],[2.029,1.653],[2.077,1.671],[2.120,1.706],[2.147,1.586],[2.160,1.489],[2.090,1.469],[2.055,1.498],[2.015,1.469],[1.976,1.508],[1.946,1.508],[1.926,1.566],[1.901,1.605],[1.877,1.624],[1.847,1.595],[1.822,1.595],[1.787,1.566],[1.772,1.498],[1.723,1.436],[1.738,1.392],[1.767,1.353],[1.797,1.353],[1.827,1.324],[1.857,1.314],[1.886,1.295],[1.916,1.314],[1.936,1.334],[1.966,1.237],[1.996,1.198],[2.015,1.217],[2.045,1.237],[2.075,1.247],[2.105,1.256],[2.144,1.372],[2.134,1.431],[1.877,1.179],[1.896,1.159],[1.916,1.140],[1.936,1.120],[1.857,1.179],[1.817,1.198],[1.787,1.237],[1.767,1.256],[1.758,1.295],[1.728,1.217],[1.698,1.198],[1.673,1.179],[1.648,1.159],[1.619,1.140],[1.589,1.101],[1.559,1.111],[1.519,1.062],[1.500,1.024],[1.470,.995],[1.440,.965],[1.410,.927],[1.381,.907],[1.549,.965],[1.579,1.004],[1.609,1.043],[1.638,1.082],[1.668,1.101],[1.698,1.120],[1.728,1.101],[1.738,1.043],[1.758,1.004],[1.787,1.024],[1.812,1.004],[1.857,1.004],[1.886,1.004],[1.817,.936],[1.777,.927],[1.738,.907],[1.718,.878],[1.688,.849],[1.658,.830],[1.629,.801],[1.599,.772],[1.569,.752],[1.539,.733],[1.510,.714],[1.480,.675],[1.450,.655],[1.420,.636],[1.400,.675],[1.371,.694],[1.361,.733],[1.341,.752],[1.331,.791],[1.450,.752],[1.480,.772],[1.519,.810],[1.559,.849],[1.589,.868],[1.619,.907],[1.648,.927],[1.678,.965],[1.417,1.167],[1.448,1.136],[1.328,1.237],[1.371,1.159],[1.381,1.130],[1.395,1.101],[1.718,1.120],[1.758,.830],[1.797,.849],[1.827,.888],[1.862,.839],[1.916,.849]];

// ---------- drawing ----------
const FONT = '"Liberation Serif", "DejaVu Serif", serif';
const groupRgb = { LMC: "204,120,188", MW: "1,115,178", Group: "2,158,115", "L-Cluster": "222,143,5" };

function toXY(arr) {
  return arr.map(p => ({ x: Math.pow(10, p[0]), y: Math.pow(10, p[1]) }));
}

// text built from pieces: [text, size, style, dy]
function drawParts(ctx, parts, x, y, align) {
  let total = 0;
  const widths = parts.map(p => {
    ctx.font = `${p[2] || ""} ${p[1]}px ${FONT}`;
    const w = ctx.measureText(p[0]).width;
    total += w;
    return w;
  });
  let cx = align === "center" ? x - total / 2 : align === "right" ? x - total : x;
  ctx.textAlign = "left";
  ctx.textBaseline = "alphabetic";
  parts.forEach((p, i) => {
    ctx.font = `${p[2] || ""} ${p[1]}px ${FONT}`;
    ctx.fillText(p[0], cx, y + (p[3] || 0));
    cx += widths[i];
  });
}

function powLabel(v) {
  const e = Math.round(Math.log10(v));
  return [["10", 17], [e < 0 ? "\u2212" + (-e) : String(e), 12, "", -7]];
}

const decoPlugin = {
  id: "deco",
  afterDraw(chart, args, opts) {
    const { ctx, chartArea: a, scales: { x, y } } = chart;
    ctx.save();
    ctx.fillStyle = "#111";
    ctx.strokeStyle = "#222";
    ctx.lineWidth = 1;

    // ticks point inwards, bottom and left only
    const vtick = (v, len) => {
      const px = Math.round(x.getPixelForValue(v)) + 0.5;
      ctx.beginPath(); ctx.moveTo(px, a.bottom); ctx.lineTo(px, a.bottom - len); ctx.stroke();
    };
    const htick = (v, len) => {
      const py = Math.round(y.getPixelForValue(v)) + 0.5;
      ctx.beginPath(); ctx.moveTo(a.left, py); ctx.lineTo(a.left + len, py); ctx.stroke();
    };
    xMinor.forEach(v => vtick(v, 4));
    xMajor.forEach(v => vtick(v, 8));
    yMinor.forEach(v => htick(v, 4));
    yMajor.forEach(v => htick(v, 8));

    ctx.lineWidth = 1.6;
    ctx.strokeStyle = "#000";
    ctx.strokeRect(a.left, a.top, a.right - a.left, a.bottom - a.top);

    // tick labels
    xMajor.forEach(v => drawParts(ctx, powLabel(v), x.getPixelForValue(v) + 1, a.bottom + 19, "center"));
    yMajor.forEach(v => drawParts(ctx, powLabel(v), a.left - 5, y.getPixelForValue(v) + 8, "right"));

    // axis titles
    const cx = (a.left + a.right) / 2, cy = (a.top + a.bottom) / 2;
    drawParts(ctx, [["V", 23, "italic"], ["max", 15, "", 4], [" [km s", 23], ["\u22121", 15, "", -9], ["]", 23]], cx, 652, "center");
    ctx.save();
    ctx.translate(a.left - 61, cy);
    ctx.rotate(-Math.PI / 2);
    drawParts(ctx, [["R", 23, "italic"], ["max", 15, "", 4], [" [kpc ", 23], ["h", 23, "italic"], ["\u22121", 15, "", -9], ["]", 23]], 0, 0, "center");
    ctx.restore();

    // panel title
    drawParts(ctx, [[opts.title, 28]], cx, 27, "center");

    // legend
    groupNames.forEach((g, i) => {
      const ly = a.top + 32.5 + i * 33;
      ctx.fillStyle = `rgba(${groupRgb[g]},0.8)`;
      ctx.beginPath(); ctx.arc(a.left + 32.5, ly, 2.6, 0, Math.PI * 2); ctx.fill();
      ctx.fillStyle = "#111";
      drawParts(ctx, [[g, 22]], a.left + 47, ly + 7, "left");
    });
    ctx.restore();
  }
};

function makeChart(canvasId, title, padding, sets, alpha, radius) {
  const datasets = [];
  groupNames.forEach(g => {
    datasets.push({
      label: g + " limit",
      data: [{ x: 3, y: refLines[g] }, { x: 150, y: refLines[g] }],
      showLine: true,
      borderColor: `rgba(${groupRgb[g]},0.55)`,
      borderWidth: 1.3,
      borderDash: [7, 4],
      pointRadius: 0,
      order: 0
    });
  });
  datasets.push({
    label: "all",
    data: toXY(sets.gray),
    backgroundColor: "rgba(135,135,135,0.28)",
    pointRadius: radius,
    borderWidth: 0,
    order: 1
  });
  groupNames.forEach((g, i) => {
    datasets.push({
      label: g,
      data: toXY(sets[g]),
      backgroundColor: `rgba(${groupRgb[g]},${alpha})`,
      pointRadius: radius,
      borderWidth: 0,
      order: 5 - i
    });
  });

  return new Chart(document.getElementById(canvasId), {
    type: "scatter",
    data: { datasets },
    options: {
      responsive: false,
      animation: false,
      events: [],
      layout: { padding },
      scales: {
        x: { type: "logarithmic", min: 3, max: 150, display: false },
        y: { type: "logarithmic", min: 0.05, max: 100, display: false }
      },
      plugins: {
        legend: { display: false },
        tooltip: { enabled: false },
        deco: { title }
      }
    },
    plugins: [decoPlugin]
  });
}

makeChart("c1", panelTitles[0], { left: 94, right: 16, top: 34, bottom: 60 },
  { gray: subGray, LMC: subLmc, MW: subMw, Group: subGroup, "L-Cluster": subCluster }, 0.8, 2.4);
makeChart("c2", panelTitles[1], { left: 100, right: 9, top: 34, bottom: 60 },
  { gray: isoGray, LMC: isoLmc, MW: isoMw, Group: isoGroup, "L-Cluster": isoCluster }, 0.6, 1.9);
</script>
</body>
</html>
